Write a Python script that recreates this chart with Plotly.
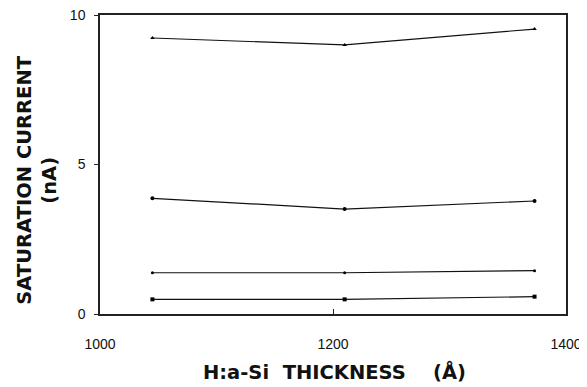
import plotly.graph_objects as go

thickness = [1045, 1210, 1373]
series_a = [9.23, 9.0, 9.53]
series_b = [3.87, 3.51, 3.78]
series_c = [1.38, 1.38, 1.45]
series_d = [0.49, 0.49, 0.58]

x_ticks = [1000, 1200, 1400]
y_ticks = [0, 5, 10]

fig = go.Figure()
styles = [
    (series_a, "triangle-up", 4),
    (series_b, "circle", 4),
    (series_c, "circle", 3),
    (series_d, "square", 4),
]
for vals, sym, sz in styles:
    fig.add_trace(go.Scatter(
        x=thickness, y=vals, mode="lines+markers",
        line=dict(color="#111111", width=1.2),
        marker=dict(symbol=sym, size=sz, color="#000000"),
        showlegend=False,
    ))

# page has an 8px body margin: figure is 579x379 so the page is 587x387
fig.update_layout(
    width=579, height=379,
    margin=dict(l=92, r=21, t=7, b=73, autoexpand=False),
    paper_bgcolor="white", plot_bgcolor="white",
    font=dict(family="Liberation Sans, Arial, sans-serif", color="#111111", size=14),
)
fig.update_xaxes(
    range=[1000, 1400], tickvals=x_ticks, ticktext=[str(v) for v in x_ticks],
    showgrid=False, zeroline=False, showline=True, linecolor="#222222", linewidth=1.5,
    mirror=True, ticks="inside", ticklen=5, tickcolor="#222222",
    ticklabelstandoff=16, automargin=False, ticklabeloverflow="allow",
)
fig.update_yaxes(
    range=[0, 10], tickvals=y_ticks, ticktext=[str(v) for v in y_ticks],
    showgrid=False, zeroline=False, showline=True, linecolor="#222222", linewidth=1.5,
    mirror=True, ticks="outside", ticklen=4, tickcolor="#222222",
    ticklabelstandoff=6, automargin=False, ticklabeloverflow="allow",
)
title_font = dict(family="DejaVu Sans, Arial, sans-serif", size=19.5, color="#111111")
fig.add_annotation(
    text="<b>SATURATION CURRENT<br>(nA)</b>", xref="paper", yref="paper",
    x=-0.136, y=0.448, xanchor="center", yanchor="middle", textangle=-90,
    showarrow=False, font=title_font,
)
fig.add_annotation(
    text="<b>H:a-Si\u00a0\u00a0THICKNESS\u00a0\u00a0\u00a0\u00a0(Å)</b>", xref="paper", yref="paper",
    x=0.504, y=-0.194, xanchor="center", yanchor="middle",
    showarrow=False, font=title_font,
)

fig.write_html("out.html")
